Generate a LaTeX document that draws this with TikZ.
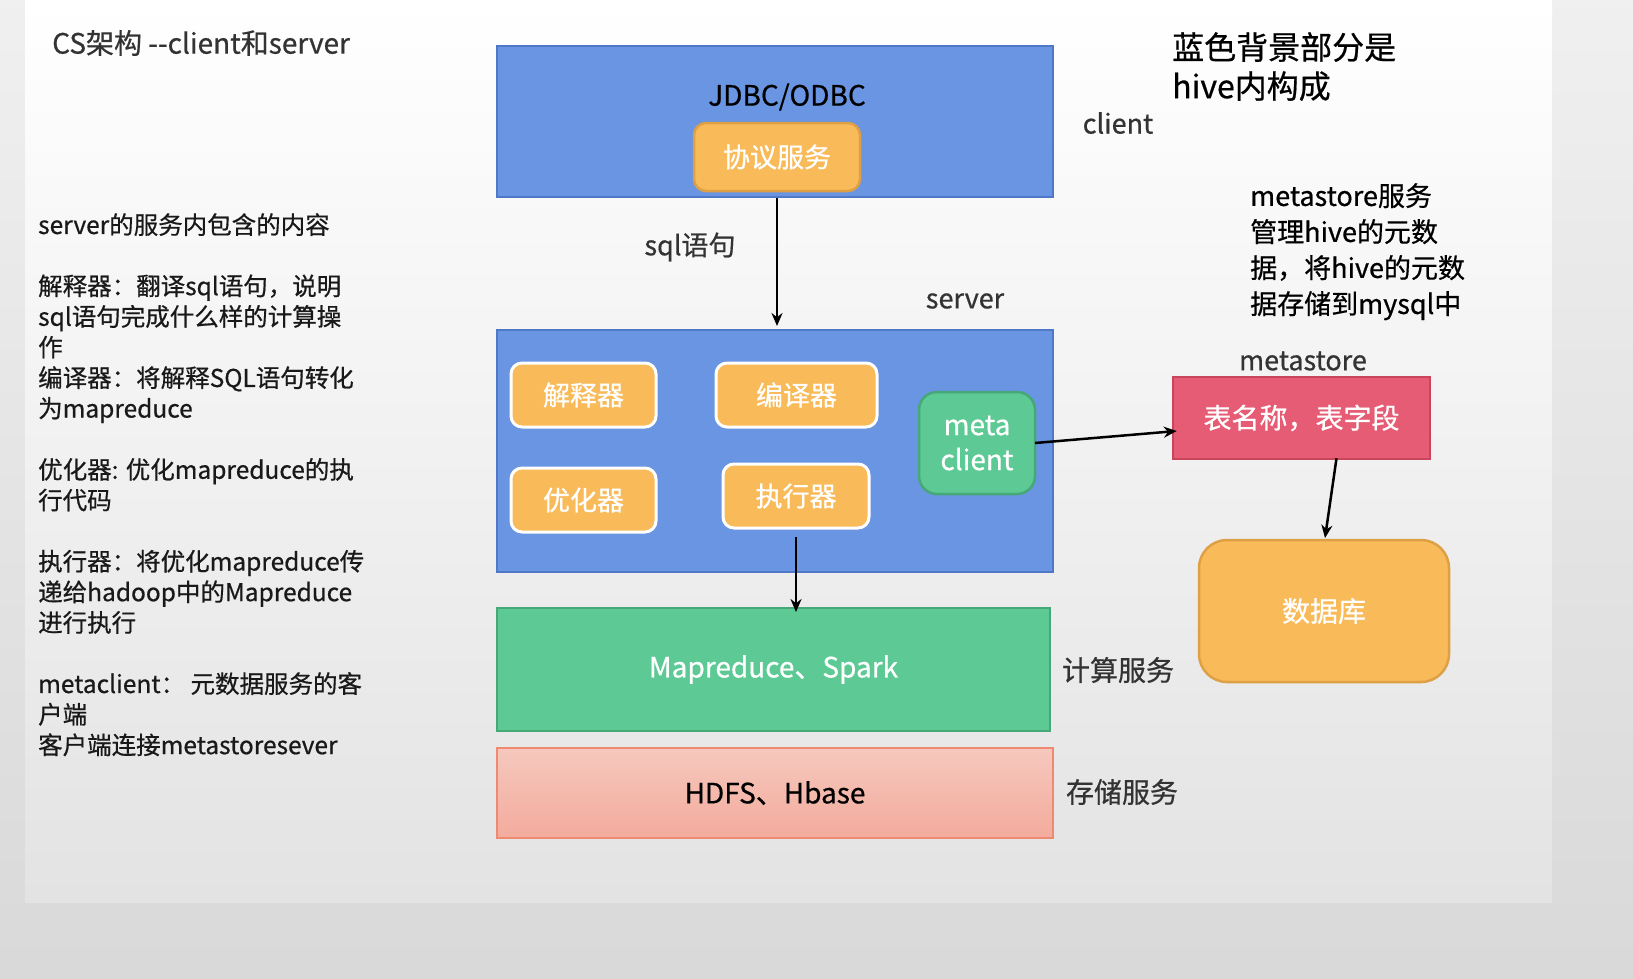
\documentclass[tikz,border=0pt]{standalone}
\usepackage{fontspec}
\setmainfont{Noto Sans CJK SC}[FakeBold=0.6]
\usetikzlibrary{arrows.meta,calc}
\definecolor{bluefill}{HTML}{6A95E2}
\definecolor{blueline}{HTML}{4F78C8}
\definecolor{orfill}{HTML}{F9BB59}
\definecolor{orline}{HTML}{DDA045}
\definecolor{grfill}{HTML}{5DCA95}
\definecolor{grline}{HTML}{45A876}
\definecolor{rdfill}{HTML}{E55C74}
\definecolor{rdline}{HTML}{C8455C}
\definecolor{pktop}{HTML}{F6C8BD}
\definecolor{pkbot}{HTML}{F3AB9D}
\definecolor{pkline}{HTML}{EF8A72}
\definecolor{lblgray}{HTML}{333333}
\tikzset{
  fs/.style={font=\fontsize{#1}{#1}\selectfont},
  bluebox/.style={draw=blueline, fill=bluefill, line width=2.5pt, inner sep=0pt, outer sep=0pt},
  orbox/.style={draw=orline, fill=orfill, line width=2.5pt, rounded corners=12pt, inner sep=0pt, outer sep=0pt, text=white, fs=27},
  orwbox/.style={draw=white, fill=orfill, line width=3pt, rounded corners=11pt, inner sep=0pt, outer sep=0pt, text=white, fs=27, minimum height=64pt},
  grbox/.style={draw=grline, fill=grfill, line width=2.5pt, inner sep=0pt, outer sep=0pt, text=white},
  lbl/.style={inner sep=0pt, text=lblgray, fs=27},
  arr/.style={-{Stealth[length=13pt,width=11pt]}, line width=2.5pt, black},
}
\begin{document}
\begin{tikzpicture}[x=1pt,y=-1pt]
\useasboundingbox (0,0) rectangle (1633,978);
% background
\shade[top color=white!94!black, bottom color=white!85!black] (0,0) rectangle (1633,978);
\shade[top color=white, bottom color=white!89!black] (25,0) rectangle (1552,902);

% title
\node[anchor=west, inner sep=0pt, text=lblgray, fs=28] (title) at (52,43) {CS架构 -{}-client和server};

% left description
\node[anchor=north west, inner sep=0pt, align=left, text=black!90,
      font=\fontsize{24.5}{30.6}\selectfont] (desc) at (38,213) {%
server的服务内包含的内容\\[30.6pt]
解释器：翻译sql语句，说明\\
sql语句完成什么样的计算操\\
作\\
编译器：将解释SQL语句转化\\
为mapreduce\\[30.6pt]
优化器: 优化mapreduce的执\\
行代码\\[30.6pt]
执行器：将优化mapreduce传\\
递给hadoop中的Mapreduce\\
进行执行\\[30.6pt]
metaclient：\ 元数据服务的客\\
户端\\
客户端连接metastoresever};

% client box
\node[bluebox, minimum width=556pt, minimum height=151pt] (cbox) at (775,121.5) {};
\node[inner sep=0pt, fs=28] (jdbc) at (787,97) {JDBC/ODBC};
\node[orbox, minimum width=166pt, minimum height=68pt] (proto) at (777,157) {协议服务};
\node[lbl] (clientlbl) at (1118,123) {client};

% notes top right
\node[anchor=north west, inner sep=0pt, align=left, text=black,
      font=\fontsize{32}{39}\selectfont] (note1) at (1172,32) {蓝色背景部分是\\hive内构成};
\node[anchor=north west, inner sep=0pt, align=left, text=black,
      font=\fontsize{27}{36}\selectfont] (note2) at (1250,183) {metastore服务\\管理hive的元数\\据，将hive的元数\\据存储到mysql中};

% labels
\node[lbl] (sqllbl) at (690,247) {sql语句};
\node[lbl] (serverlbl) at (965,301) {server};

% server box
\node[bluebox, minimum width=556pt, minimum height=242pt] (sbox) at (775,451) {};
\node[orwbox, minimum width=145pt] (jsq) at (583.5,395) {解释器};
\node[orwbox, minimum width=161pt] (byq) at (796.5,395) {编译器};
\node[orwbox, minimum width=145pt] (yhq) at (583.5,500) {优化器};
\node[orwbox, minimum width=146pt] (zxq) at (796,496) {执行器};
\node[grbox, rounded corners=18pt, minimum width=116pt, minimum height=102pt, align=center,
      font=\fontsize{28}{35}\selectfont] (mc) at (977,443) {meta\\client};

\draw[arr, shorten <=7pt, shorten >=4pt] (proto.south) -- (proto.south |- sbox.north);

% compute & storage
\node[grbox, minimum width=553pt, minimum height=123pt, fs=28] (comp) at (773.5,669.5) {Mapreduce、Spark};
\node[lbl, fs=28] (complbl) at (1118,670) {计算服务};
\node[draw=pkline, top color=pktop, bottom color=pkbot, line width=2.5pt, inner sep=0pt,
      minimum width=556pt, minimum height=90pt, fs=28, text=black] (stor) at (775,793) {HDFS、Hbase};
\node[lbl, fs=28] (storlbl) at (1122,792) {存储服务};

\draw[arr, shorten <=9pt, shorten >=-4pt] (zxq.south) -- (zxq.south |- comp.north);

% metastore
\node[lbl] (mslbl) at (1303,361) {metastore};
\node[draw=rdline, fill=rdfill, line width=2.5pt, inner sep=0pt, minimum width=257pt,
      minimum height=82pt, text=white, fs=28] (red) at (1301.5,418) {表名称，表字段};
\node[orbox, rounded corners=28pt, minimum width=250pt, minimum height=142pt, fs=28] (db) at (1324,611) {数据库};

\draw[arr] (mc.east) -- ($(red.west)+(5,13)$);
\draw[arr] ($(red.south)+(35,-2)$) -- ($(db.north)+(1,-2)$);
\end{tikzpicture}
\end{document}
